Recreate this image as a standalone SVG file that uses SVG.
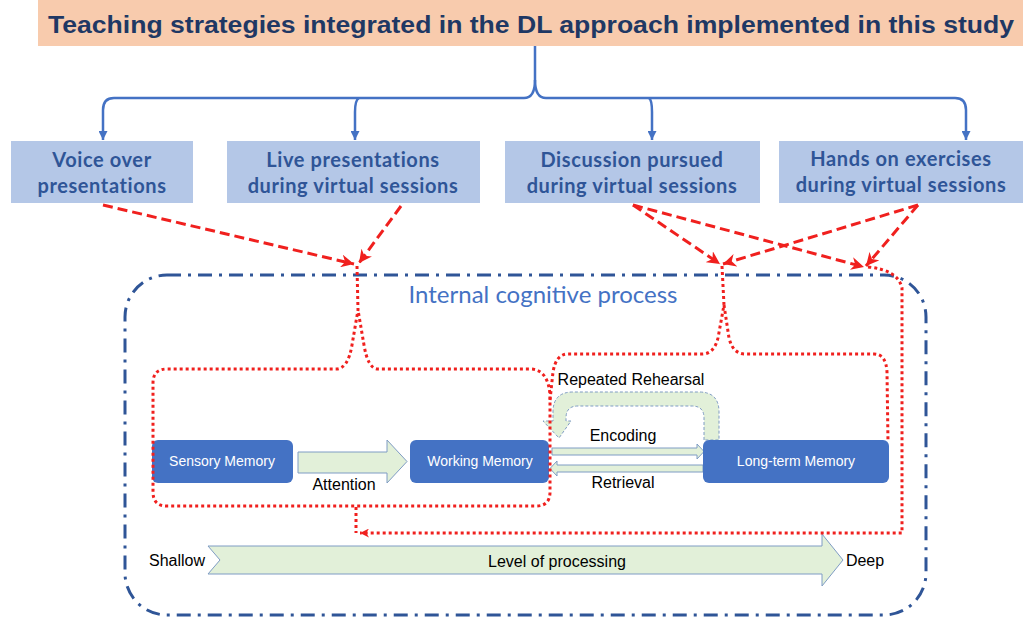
<svg xmlns="http://www.w3.org/2000/svg" width="1023" height="619" viewBox="0 0 1023 619">
<defs>
<style>
.strat rect{fill:#B4C7E7}
.strat text{font-family:Lato,"Liberation Sans",sans-serif;font-weight:bold;font-size:20px;fill:#2F5597;text-anchor:middle;letter-spacing:0.6px}
.mem rect{fill:#4472C4}
.mem text{font-family:"Liberation Sans",sans-serif;font-size:14px;fill:#fff;text-anchor:middle}
.lbl{font-family:"Liberation Sans",sans-serif;font-size:16px;fill:#000;text-anchor:middle}
.garrow{fill:#E2F0D9;stroke:#7F9CC4;stroke-width:1}
.blue{fill:none;stroke:#4472C4;stroke-width:2.5}
.dash{fill:none;stroke:#F0201E;stroke-width:3;stroke-dasharray:10 5}
.dot{fill:none;stroke:#F0201E;stroke-width:3;stroke-dasharray:3 3}
</style>
<marker id="ab" viewBox="0 0 10 10" refX="10" refY="5" markerWidth="9" markerHeight="9" markerUnits="userSpaceOnUse" orient="auto"><path d="M0,0 L10,5 L0,10 Z" fill="#4472C4"/></marker>
<marker id="ar" viewBox="0 0 10 10" refX="10" refY="5" markerWidth="13" markerHeight="13" markerUnits="userSpaceOnUse" orient="auto"><path d="M0,0 L10,5 L0,10 L3,5 Z" fill="#F0201E"/></marker>
<marker id="ard" viewBox="0 0 10 10" refX="10" refY="5" markerWidth="9" markerHeight="9" markerUnits="userSpaceOnUse" orient="auto"><path d="M0,0 L10,5 L0,10 L3,5 Z" fill="#F0201E"/></marker>
</defs>

<g id="title">
<rect x="38" y="0" width="985" height="46" fill="#F8CBAD"/>
<text x="531" y="33" font-family="'Liberation Sans',sans-serif" font-weight="bold" font-size="23" fill="#1F3864" text-anchor="middle" textLength="966" lengthAdjust="spacingAndGlyphs">Teaching strategies integrated in the DL approach implemented in this study</text>
</g>

<g id="s1" class="strat"><rect x="11" y="141" width="182" height="62"/><text x="102" y="167">Voice over</text><text x="102" y="193">presentations</text></g>
<g id="s2" class="strat"><rect x="227" y="141" width="253" height="62"/><text x="353" y="167">Live presentations</text><text x="353" y="193">during virtual sessions</text></g>
<g id="s3" class="strat"><rect x="505" y="141" width="255" height="62"/><text x="632" y="167">Discussion pursued</text><text x="632" y="193">during virtual sessions</text></g>
<g id="s4" class="strat"><rect x="779" y="141" width="244" height="62"/><text x="901" y="166">Hands on exercises</text><text x="901" y="192">during virtual sessions</text></g>

<g id="process">
<rect x="125" y="275" width="801" height="340" rx="42" fill="none" stroke="#2F5597" stroke-width="3" stroke-dasharray="14 7 3 7"/>
<text x="543" y="303" font-family="Lato,'Liberation Sans',sans-serif" font-size="24" fill="#4472C4" text-anchor="middle">Internal cognitive process</text>
</g>

<g id="rehearsal">
<path class="garrow" stroke-dasharray="3 2" d="M704,440 L704,418 Q704,406 692,406 L578,406 Q566,406 566,418 L566,421 L571,421 L559,438 L543,421 L553,421 L553,412 Q553,392 573,392 L699,392 Q719,392 719,412 L719,440 Z"/>
<text class="lbl" x="631" y="385" font-size="15">Repeated Rehearsal</text>
</g>

<g id="attention">
<polygon class="garrow" points="298,452 387,452 387,440 407,461.5 387,483 387,473 298,473"/>
<text class="lbl" x="344" y="490">Attention</text>
</g>
<g id="encoding">
<polygon class="garrow" points="552,448 697,448 697,444 704,451.5 697,459 697,455 552,455"/>
<text class="lbl" x="623" y="441">Encoding</text>
</g>
<g id="retrieval">
<polygon class="garrow" points="703,465 557,465 557,461 550,468.5 557,476 557,472 703,472"/>
<text class="lbl" x="623" y="488">Retrieval</text>
</g>

<g id="sensory" class="mem"><rect x="152" y="440" width="141" height="43" rx="6"/><text x="222" y="466">Sensory Memory</text></g>
<g id="working" class="mem"><rect x="410" y="440" width="139" height="43" rx="6"/><text x="480" y="466">Working Memory</text></g>
<g id="longterm" class="mem"><rect x="703" y="440" width="186" height="43" rx="6"/><text x="796" y="466">Long-term Memory</text></g>

<g id="levels">
<polygon class="garrow" points="208,546 822,546 822,534 843,560 822,586 822,574 208,574 220,560"/>
<text class="lbl" x="557" y="567">Level of processing</text>
<text class="lbl" x="177" y="566">Shallow</text>
<text class="lbl" x="865" y="566">Deep</text>
</g>

<g id="connectors">
<path class="blue" d="M535,46 L535,80 Q535,98 524,98 L114,98 Q103,98 103,110 L103,140" marker-end="url(#ab)"/>
<path class="blue" d="M535,80 Q535,98 546,98 L955,98 Q966,98 966,110 L966,140" marker-end="url(#ab)"/>
<path class="blue" d="M359,98 Q355,100 355,112 L355,140" marker-end="url(#ab)"/>
<path class="blue" d="M649,98 Q652,100 652,112 L652,140" marker-end="url(#ab)"/>

<path class="dash" d="M103,205 L354,264" marker-end="url(#ar)"/>
<path class="dash" d="M401,206 L359,263" marker-end="url(#ar)"/>
<path class="dash" d="M633,205 L720,264" marker-end="url(#ar)"/>
<path class="dash" d="M633,205 L864,267" marker-end="url(#ar)"/>
<path class="dash" d="M918,205 L723,264" marker-end="url(#ar)"/>
<path class="dash" d="M918,205 L866,266" marker-end="url(#ar)"/>

<path class="dot" d="M357,266 L358,310 L352,345 Q348,369 336,369 L167,369 Q153,369 153,383 L153,492 Q153,506 167,506 L536,506 Q550,506 550,492 L550,395 Q548,369 530,369 L378,369 Q368,369 364,345 L358,310"/>
<path class="dot" d="M722,266 L724,305 L718,338 Q714,354 702,354 L568,354 Q556,354 553,372 L550,400"/>
<path class="dot" d="M724,305 L729,338 Q733,354 745,354 L874,354 Q886,354 887,372 L888,442"/>
<path class="dot" d="M868,267 Q898,270 902,288 L902,533 L360,533" marker-end="url(#ard)"/>
<path class="dot" d="M356,507 L356,533"/>
</g>
</svg>
